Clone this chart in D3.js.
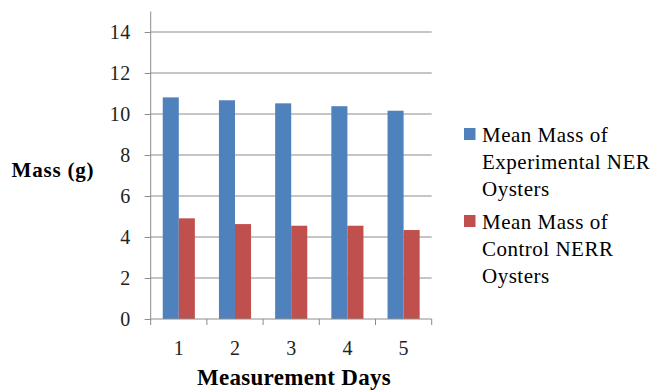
<!DOCTYPE html>
<html>
<head>
<meta charset="utf-8">
<script src="https://cdn.jsdelivr.net/npm/d3@7/dist/d3.min.js"></script>
</head>
<body style="margin:0">
<svg id="chart" width="661" height="392" style="display:block;background:#ffffff"></svg>
<script>
// Measurement days on the category axis
const days = ["1", "2", "3", "4", "5"];
// Mean oyster mass (g) per measurement day
const experimentalMass = [10.81, 10.67, 10.52, 10.38, 10.16];
const controlMass = [4.91, 4.63, 4.55, 4.55, 4.34];
const seriesNames = ["Mean Mass of Experimental NER Oysters", "Mean Mass of Control NERR Oysters"];
const legendLines = [
  ["Mean Mass of", "Experimental NER", "Oysters"],
  ["Mean Mass of", "Control NERR", "Oysters"]
];
const yTicks = [0, 2, 4, 6, 8, 10, 12, 14];
const yMax = 15;

const FONT = "'Liberation Serif'";
const colors = ["#4F81BD", "#C0504D"];
const gridColor = "#8c8c8c";

const svg = d3.select("#chart");
const plot = { left: 150.7, right: 431.7, top: 11.5, bottom: 319 };

const x0 = d3.scaleBand().domain(days).range([plot.left, plot.right]).paddingInner(0).paddingOuter(0);
const step = x0.step();
const gapHalf = step * 0.75 / 3.5; // gap width 150% of one bar
const x1 = d3.scaleBand().domain(seriesNames).range([gapHalf, step - gapHalf]).padding(0);
const y = d3.scaleLinear().domain([0, yMax]).range([plot.bottom, plot.top]);

// horizontal gridlines
svg.append("g")
  .selectAll("line")
  .data(yTicks.filter(t => t > 0))
  .join("line")
  .attr("x1", plot.left).attr("x2", plot.right)
  .attr("y1", d => y(d)).attr("y2", d => y(d))
  .attr("stroke", gridColor).attr("stroke-width", 1);

// bars
const rows = days.map((d, i) => ({ day: d, values: [experimentalMass[i], controlMass[i]] }));
svg.append("g")
  .selectAll("g")
  .data(rows)
  .join("g")
  .attr("transform", d => `translate(${x0(d.day)},0)`)
  .selectAll("rect")
  .data(d => d.values.map((v, j) => ({ name: seriesNames[j], value: v, j })))
  .join("rect")
  .attr("x", d => x1(d.name))
  .attr("width", x1.bandwidth())
  .attr("y", d => y(d.value))
  .attr("height", d => y(0) - y(d.value))
  .attr("fill", d => colors[d.j]);

// y axis
const yAxis = d3.axisLeft(y).tickValues(yTicks).tickSize(6).tickPadding(14).tickFormat(d3.format("d"));
const gy = svg.append("g").attr("transform", `translate(${plot.left},0)`).call(yAxis);
gy.attr("font-family", FONT).attr("font-size", 20);
gy.select(".domain").attr("stroke", gridColor).attr("d", `M0,${y(0)}V${y(yMax)}`);
gy.selectAll(".tick line").attr("stroke", gridColor);
gy.selectAll(".tick text").attr("fill", "#222").attr("letter-spacing", 0.5);

// x axis with tick marks between categories
const gx = svg.append("g").attr("transform", `translate(0,${plot.bottom})`);
gx.append("line").attr("x1", plot.left).attr("x2", plot.right).attr("y1", 0).attr("y2", 0).attr("stroke", gridColor);
gx.selectAll("line.sep")
  .data(days.concat(["end"]))
  .join("line")
  .attr("class", "sep")
  .attr("x1", (d, i) => plot.left + i * step).attr("x2", (d, i) => plot.left + i * step)
  .attr("y1", 0).attr("y2", 6)
  .attr("stroke", gridColor);
gx.selectAll("text")
  .data(days)
  .join("text")
  .attr("x", d => x0(d) + step / 2)
  .attr("y", 36)
  .attr("text-anchor", "middle")
  .attr("font-family", FONT)
  .attr("font-size", 20)
  .attr("fill", "#222")
  .text(d => d);

// axis titles
svg.append("text")
  .attr("x", 294).attr("y", 385)
  .attr("text-anchor", "middle")
  .attr("font-family", FONT)
  .attr("font-size", 23).attr("font-weight", "bold")
  .attr("letter-spacing", 0.3)
  .text("Measurement Days");
svg.append("text")
  .attr("x", 53).attr("y", 177)
  .attr("text-anchor", "middle")
  .attr("font-family", FONT)
  .attr("font-size", 21).attr("font-weight", "bold")
  .attr("letter-spacing", 0.8)
  .text("Mass (g)");

// legend
const legend = svg.append("g");
const legendTop = [142, 229];
const lineH = 26.8;
legendLines.forEach((lines, i) => {
  legend.append("rect")
    .attr("x", 464).attr("y", legendTop[i] - 14)
    .attr("width", 11.5).attr("height", 12)
    .attr("fill", colors[i]);
  lines.forEach((t, k) => {
    legend.append("text")
      .attr("x", 482).attr("y", legendTop[i] + k * lineH)
      .attr("font-family", FONT)
      .attr("font-size", 21)
      .attr("letter-spacing", 0.5)
      .text(t);
  });
});
</script>
</body>
</html>
